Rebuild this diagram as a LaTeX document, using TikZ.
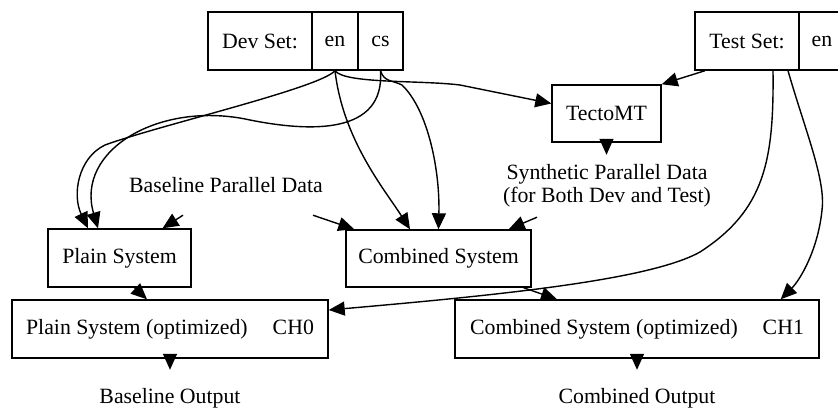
\documentclass[tikz,border=0pt]{standalone}
\usepackage{fontspec}
\setmainfont{Liberation Serif}
\usetikzlibrary{arrows.meta}
\tikzset{
  box/.style={draw, line width=1.4pt, inner sep=0pt, minimum height=58pt},
  txt/.style={inner sep=0pt, align=center},
  edge/.style={line width=1.4pt, -{Triangle[length=16pt,width=14pt]}}
}

\begin{document}
\begin{tikzpicture}[x=1pt, y=-1pt, font=\fontsize{21.8}{23}\selectfont]
\useasboundingbox (0,0) rectangle (838,410);
\clip (0,0) rectangle (838,410);
\fill[white] (0,0) rectangle (838,410);

\node[box, minimum width=104pt] (devlbl) at (260,41) {Dev Set:};
\node[box, minimum width=46pt] (deven) at (335,41) {en};
\node[box, minimum width=45pt] (devcs) at (380.5,41) {cs};
\node[box, minimum width=104pt] (testlbl) at (747,41) {Test Set:};
\node[box, minimum width=46pt] (testen) at (822,41) {en};

\node[box, minimum width=109pt, minimum height=57pt] (tecto) at (606.5,113.5) {TectoMT};
\node[txt, minimum height=62pt] (synth) at (607,186) {Synthetic Parallel Data\\(for Both Dev and Test)};
\node[txt, minimum height=60pt] (basedata) at (226,185) {Baseline Parallel Data};

\node[box, minimum width=143pt] (plain) at (119.5,258) {Plain System};
\node[box, minimum width=185pt, minimum height=57pt] (comb) at (438.5,258.5) {Combined System};
\node[box, minimum width=316pt] (plainopt) at (170,329) {Plain System (optimized)\hspace{25pt}CH0};
\node[box, minimum width=364pt] (combopt) at (637,329) {Combined System (optimized)\hspace{25pt}CH1};

\node[txt, minimum height=56pt] (baseout) at (170,398) {Baseline Output};
\node[txt, minimum height=56pt] (combout) at (637,398) {Combined Output};

\draw[edge] (deven.south) .. controls (320,88) and (160,125) .. (105,145) .. controls (78,158) and (72,195) .. ([xshift=-31.5pt]plain.north);
\draw[edge] (devcs.south) .. controls (385,135) and (310,132) .. (250,120) .. controls (160,100) and (75,150) .. ([xshift=-21.5pt]plain.north);
\draw[edge] (deven.south) .. controls (343,140) and (385,190) .. ([xshift=-28.5pt]comb.north);
\draw[edge] (devcs.south) .. controls (384,82) and (392,80) .. (402,85) .. controls (428,110) and (440,170) .. (comb.north);
\draw[edge] (deven.south) .. controls (345,84) and (420,80) .. (460,85) -- ([yshift=10pt]tecto.west);
\draw[edge] ([xshift=-42pt]testlbl.south) -- (tecto.north east);
\draw[edge] ([xshift=26pt]testlbl.south) .. controls (774,160) and (765,210) .. (700,252) .. controls (650,280) and (500,295) .. ([yshift=19pt]plainopt.east);
\draw[edge] ([xshift=41pt]testlbl.south) .. controls (805,130) and (826,180) .. (822,210) .. controls (818,250) and (800,280) .. ([xshift=-39pt]combopt.north east);
\draw[edge] ([xshift=15pt]plain.south) -- ([xshift=-23pt]plainopt.north);
\draw[edge] ([xshift=85pt]comb.south) -- ([xshift=-80pt]combopt.north);
\draw[edge] ([xshift=-43pt]basedata.south) -- ([xshift=43pt]plain.north);
\draw[edge] ([xshift=87pt]basedata.south) -- ([xshift=9pt]comb.north west);
\draw[edge] ([xshift=-70pt]synth.south) -- ([xshift=-23pt]comb.north east);
\draw[edge] (tecto.south) -- (tecto.south |- synth.north);
\draw[edge] (plainopt.south) -- (baseout.north);
\draw[edge] (combopt.south) -- (combout.north);
\end{tikzpicture}
\end{document}
